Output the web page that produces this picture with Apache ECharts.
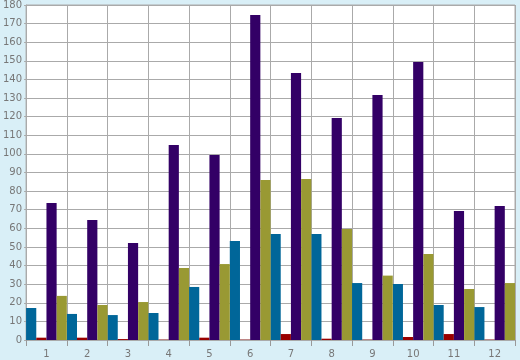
<!DOCTYPE html>
<html>
<head>
<meta charset="utf-8">
<script src="https://cdn.jsdelivr.net/npm/echarts@6/dist/echarts.min.js"></script>
<style>
html,body{margin:0;padding:0;background:#d9eff7;}
#chart{width:520px;height:360px;}
</style>
</head>
<body>
<div id="chart"></div>
<script>
var categories = ['1','2','3','4','5','6','7','8','9','10','11','12'];
var blueValues   = [17.2, 14.0, 13.4, 14.5, 28.5, 53.2, 57.0, 57.0, 30.6, 30.1, 18.8, 17.7];
var redValues    = [1.25, 1.25, 0.5, 0.2, 1.25, 0.2, 3.2, 0.7, 0.2, 1.6, 3.2, 0.2];
var purpleValues = [73.6, 64.5, 52.1, 104.8, 99.4, 174.6, 143.5, 119.3, 131.6, 149.4, 69.3, 72.0];
var oliveValues  = [23.7, 18.8, 20.4, 38.7, 40.8, 86.0, 86.5, 59.6, 34.6, 46.2, 27.4, 30.6];

var chart = echarts.init(document.getElementById('chart'), null, {renderer:'canvas'});
var font = 'DejaVu Sans';
function bar(name, data, color){
  return {name:name, type:'bar', data:data, barGap:'0%', barCategoryGap:'0%',
    itemStyle:{color:color}, animation:false};
}
chart.setOption({
  backgroundColor:'#d9eff7',
  animation:false,
  grid:{left:26, right:5, top:5, bottom:20, show:true, backgroundColor:'#ffffff', borderColor:'#aaaaaa', borderWidth:1},
  xAxis:{type:'category', data:categories,
    axisLine:{lineStyle:{color:'#aaaaaa'}},
    axisTick:{show:true, length:6, lineStyle:{color:'#999999'}},
    splitLine:{show:true, lineStyle:{color:'#aaaaaa', width:1}},
    axisLabel:{color:'#777777', fontFamily:font, fontSize:10, margin:9}
  },
  yAxis:{type:'value', min:0, max:180, interval:10,
    axisLine:{show:true, lineStyle:{color:'#aaaaaa'}},
    axisTick:{show:true, length:2, lineStyle:{color:'#aaaaaa'}},
    splitLine:{show:true, lineStyle:{color:'#aaaaaa', width:1}},
    axisLabel:{color:'#777777', fontFamily:font, fontSize:10, margin:4}
  },
  series:[
    bar('blue', blueValues, '#006699'),
    bar('red', redValues, '#990000'),
    bar('purple', purpleValues, '#330066'),
    bar('olive', oliveValues, '#999933')
  ]
});
</script>
</body>
</html>
